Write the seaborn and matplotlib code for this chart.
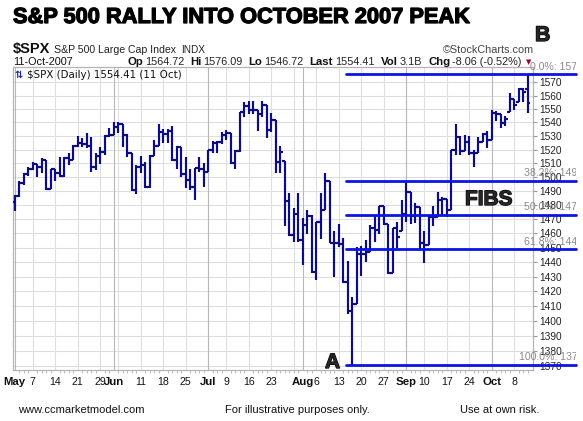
import numpy as np
import pandas as pd
import matplotlib
matplotlib.use("Agg")
import matplotlib.pyplot as plt
import matplotlib.patheffects as pe
from matplotlib.ticker import NullLocator, FixedLocator
from matplotlib.transforms import Bbox, blended_transform_factory
import seaborn as sns

# ---------------- data ----------------
holidays = ["2007-05-28", "2007-07-04", "2007-09-03"]
start_date, end_date = "2007-05-01", "2007-10-11"

opens = [
    1482.4, 1486.3, 1495.9, 1502.4, 1505.6, 1509.5, 1507.7, 1512.6, 1491.5, 1505.9, 1503.2,
    1501.2, 1514.1, 1512.8, 1522.8, 1525.1, 1524.1, 1522.3, 1507.5, 1515.7, 1518.1, 1530.2,
    1530.6, 1536.3, 1539.2, 1531.0, 1517.4, 1490.7, 1507.7, 1509.1, 1493.0, 1515.7, 1523.0,
    1532.9, 1531.1, 1533.7, 1512.8, 1522.2, 1502.6, 1497.7, 1492.9, 1506.3, 1505.7,
    1503.4, 1519.4, 1524.9, 1525.4, 1530.4, 1531.9, 1510.1, 1518.8, 1547.7, 1552.5, 1549.5,
    1549.4, 1546.2, 1553.1, 1534.1, 1541.6, 1511.0, 1512.0, 1482.7, 1459.0, 1473.9,
    1455.3, 1465.8, 1472.2, 1433.1, 1467.7, 1476.7, 1497.5, 1453.1, 1453.6, 1452.9, 1426.5,
    1406.7, 1411.3, 1445.9, 1445.6, 1447.1, 1464.1, 1462.5, 1479.4, 1466.8, 1432.4, 1463.8, 1462.0,
    1474.0, 1489.4, 1472.3, 1478.6, 1453.6, 1451.7, 1471.5, 1471.6, 1484.0, 1484.3, 1476.7,
    1519.8, 1529.0, 1518.8, 1525.8, 1517.7, 1517.2, 1525.4, 1531.4,
    1526.8, 1547.0, 1546.6, 1539.6, 1548.0, 1557.6, 1555.0, 1565.2, 1564.72,
]
highs = [
    1487.3, 1497.5, 1503.3, 1507.5, 1511.0, 1509.5, 1513.8, 1512.6, 1506.0, 1506.0, 1514.8,
    1514.5, 1517.2, 1523.5, 1529.9, 1528.5, 1532.4, 1529.3, 1517.6, 1521.8, 1530.8, 1535.6,
    1540.5, 1540.6, 1539.1, 1531.6, 1517.4, 1508.9, 1515.0, 1511.0, 1516.0, 1526.7, 1538.7,
    1535.4, 1535.4, 1537.3, 1522.9, 1522.2, 1514.4, 1506.1, 1506.8, 1514.8, 1510.0,
    1519.9, 1526.0, 1526.0, 1532.6, 1534.3, 1531.9, 1519.9, 1547.9, 1555.1, 1555.9, 1555.9,
    1549.4, 1555.9, 1553.1, 1547.0, 1541.6, 1523.0, 1512.0, 1488.5, 1477.9, 1488.3,
    1470.7, 1476.4, 1473.2, 1467.7, 1488.3, 1503.0, 1497.5, 1462.0, 1466.3, 1456.7, 1440.8,
    1415.9, 1450.5, 1451.5, 1455.3, 1466.0, 1472.1, 1479.4, 1479.4, 1466.8, 1463.8, 1468.4, 1484.0,
    1496.4, 1489.4, 1481.5, 1478.6, 1462.0, 1472.4, 1479.5, 1489.6, 1486.0, 1484.3, 1519.9,
    1538.7, 1529.9, 1530.9, 1530.2, 1519.8, 1529.4, 1532.4, 1533.7,
    1549.0, 1548.7, 1546.6, 1544.8, 1561.9, 1557.6, 1565.4, 1565.4, 1576.09,
]
lows = [
    1475.5, 1485.6, 1494.5, 1501.0, 1505.3, 1500.0, 1503.0, 1490.9, 1491.4, 1497.6, 1500.0,
    1500.0, 1508.9, 1512.8, 1521.8, 1521.8, 1521.0, 1504.0, 1505.4, 1509.6, 1516.0, 1528.9,
    1530.6, 1532.1, 1521.7, 1514.5, 1490.4, 1488.0, 1503.0, 1492.1, 1492.1, 1515.6, 1523.0,
    1524.7, 1525.2, 1512.0, 1505.8, 1500.0, 1492.1, 1490.5, 1483.3, 1503.4, 1492.9,
    1503.4, 1517.4, 1517.4, 1524.2, 1526.7, 1509.6, 1505.8, 1518.6, 1543.9, 1546.4, 1546.6,
    1533.4, 1543.9, 1528.4, 1533.0, 1503.0, 1503.0, 1465.0, 1458.0, 1454.0, 1454.3,
    1438.0, 1459.5, 1432.8, 1427.4, 1455.8, 1476.7, 1453.1, 1429.7, 1450.6, 1425.5, 1404.4,
    1370.6, 1411.3, 1430.5, 1440.0, 1447.1, 1454.0, 1459.3, 1466.0, 1432.0, 1432.4, 1450.0, 1462.0,
    1468.0, 1466.4, 1467.4, 1449.1, 1439.3, 1451.7, 1465.1, 1471.6, 1473.2, 1471.8, 1476.6,
    1516.0, 1516.4, 1518.8, 1516.2, 1507.1, 1517.2, 1525.4, 1521.0,
    1526.8, 1540.9, 1536.0, 1537.6, 1548.0, 1549.0, 1555.0, 1555.5, 1546.72,
]
closes = [
    1486.3, 1495.9, 1502.4, 1505.6, 1509.5, 1507.7, 1512.6, 1491.5, 1505.9, 1503.2, 1501.2,
    1514.1, 1512.8, 1522.8, 1525.1, 1524.1, 1522.3, 1507.5, 1515.7, 1518.1, 1530.2, 1530.6,
    1536.3, 1539.2, 1531.0, 1517.4, 1490.7, 1507.7, 1509.1, 1493.0, 1515.7, 1523.0, 1532.9,
    1531.1, 1533.7, 1512.8, 1522.2, 1502.6, 1497.7, 1492.9, 1506.3, 1505.7, 1503.4,
    1519.4, 1524.9, 1525.4, 1530.4, 1531.9, 1510.1, 1518.8, 1547.7, 1552.5, 1549.5, 1549.4,
    1546.2, 1553.1, 1534.1, 1541.6, 1511.0, 1518.1, 1482.7, 1459.0, 1473.9, 1455.3,
    1465.8, 1472.2, 1433.1, 1467.7, 1476.7, 1497.5, 1453.1, 1453.6, 1452.9, 1426.5, 1406.7,
    1411.3, 1445.9, 1445.6, 1447.1, 1464.1, 1462.5, 1479.4, 1466.8, 1432.4, 1463.8, 1457.6, 1474.0,
    1489.4, 1472.3, 1478.6, 1453.6, 1451.7, 1471.5, 1471.6, 1484.0, 1484.3, 1476.7, 1519.8,
    1529.0, 1518.8, 1525.8, 1517.7, 1517.2, 1525.4, 1531.4, 1526.8,
    1547.0, 1546.6, 1539.6, 1542.8, 1557.6, 1552.6, 1565.2, 1562.5, 1554.41,
]

tick_dates = ["2007-05-01", "2007-05-07", "2007-05-14", "2007-05-21", "2007-05-29",
              "2007-06-01", "2007-06-11", "2007-06-18", "2007-06-25", "2007-07-02",
              "2007-07-09", "2007-07-16", "2007-07-23", "2007-08-01", "2007-08-06",
              "2007-08-13", "2007-08-20", "2007-08-27", "2007-09-04", "2007-09-10",
              "2007-09-17", "2007-09-24", "2007-10-01", "2007-10-08"]
tick_labels = ["May", "7", "14", "21", "29", "Jun", "11", "18", "25", "Jul", "9", "16",
               "23", "Aug", "6", "13", "20", "27", "Sep", "10", "17", "24", "Oct", "8"]
month_labels = ["May", "Jun", "Jul", "Aug", "Sep", "Oct"]
price_ticks = list(range(1370, 1580, 10))

fib_levels = [0.0, 0.382, 0.5, 0.618, 1.0]
point_a_date = "2007-08-16"

title = "S&P 500 RALLY INTO OCTOBER 2007 PEAK"
symbol, symbol_name, exch = "$SPX", "S&P 500 Large Cap Index", "INDX"
date_str = "11-Oct-2007"
quote_items = [("Op", "1564.72"), ("Hi", "1576.09"), ("Lo", "1546.72"),
               ("Last", "1554.41"), ("Vol", "3.1B"), ("Chg", "-8.06 (-0.52%)")]
legend_str = "$SPX (Daily) 1554.41 (11 Oct)"
footer = ["www.ccmarketmodel.com", "For illustrative purposes only.", "Use at own risk."]

# ---------------- figure ----------------
sns.set_theme(style="white")
plt.rcParams["font.family"] = ["Liberation Sans", "DejaVu Sans"]

W, H = 583, 421
fig = plt.figure(figsize=(W / 100, H / 100), dpi=100)
fig.patch.set_facecolor("white")

def fx(x):
    return x / W

def fy(y):
    return 1 - y / H

ax_l, ax_r, ax_t, ax_b = 13, 533, 66.7, 369.5
ax = fig.add_axes([fx(ax_l), fy(ax_b), (ax_r - ax_l) / W, (ax_b - ax_t) / H])
ax.set_facecolor("white")

dates = pd.bdate_range(start_date, end_date).drop(pd.to_datetime(holidays))
df = pd.DataFrame({"date": dates, "open": opens, "high": highs, "low": lows, "close": closes})
df["x"] = np.arange(len(df))

NAVY = "#0b0b8c"
BLUE = "#0a14e6"
GRID = "#dedede"
MGRID = "#b8b8b8"

XLIM = (-0.38, 115.16)
YLIM = (1367.6, 1581.8)
ax.set_yscale("log")
ax.set_xlim(*XLIM)
ax.set_ylim(*YLIM)

# grid lines
for p in price_ticks:
    ax.axhline(p, color=GRID, lw=0.8, zorder=0)
week = df["date"].dt.isocalendar().week
week_start = df.index[week.ne(week.shift())]
month_start = df.index[df["date"].dt.month.ne(df["date"].dt.month.shift())]
for i in week_start:
    ax.axvline(i, color=GRID, lw=0.8, zorder=0)
for i in month_start:
    ax.axvline(i, color=MGRID, lw=0.8, zorder=0)

# OHLC bars
ax.vlines(df["x"], df["low"], df["high"], color=NAVY, lw=1.55, zorder=3)
ax.hlines(df["open"], df["x"] - 0.6, df["x"], color=NAVY, lw=1.55, zorder=3)
ax.hlines(df["close"], df["x"], df["x"] + 0.6, color=NAVY, lw=1.55, zorder=3)

# fibonacci lines
xa = df.index[df["date"] == pd.Timestamp(point_a_date)][0]
low_a = df["low"].min()
high_b = df["high"].max()
x_end = ax.transData.inverted().transform(fig.transFigure.transform((fx(576), 0.5)))[0]
rows = []
for lv in fib_levels:
    price = high_b - lv * (high_b - low_a)
    rows.append({"lvl": f"{lv}", "x": xa - 1.5, "y": price})
    rows.append({"lvl": f"{lv}", "x": x_end, "y": price})
fib_df = pd.DataFrame(rows)
sns.lineplot(data=fib_df, x="x", y="y", hue="lvl", units="lvl", estimator=None,
             palette=[BLUE] * len(fib_levels), legend=False, lw=2.0, ax=ax,
             clip_on=False, zorder=4, sort=False)
ax.set_xlim(*XLIM)
ax.set_ylim(*YLIM)

clip = Bbox.from_extents(0, 0, 576, H)
btf = blended_transform_factory(fig.transFigure, ax.transData)
for lv in fib_levels:
    price = high_b - lv * (high_b - low_a)
    t = ax.text(fx(598), price * 1.0012, f"{lv*100:.1f}%: {price:.2f}", transform=btf,
                ha="right", va="bottom", fontsize=7.6, color="#8a8a8a", zorder=6)
    t.set_clip_on(True)
    t.set_clip_box(clip)

# axes styling
for s in ax.spines.values():
    s.set_color("#b4b4b4")
    s.set_linewidth(0.9)
ax.yaxis.tick_right()
ax.yaxis.set_minor_locator(NullLocator())
ax.yaxis.set_major_locator(FixedLocator(price_ticks))
ax.set_yticklabels([str(p) for p in price_ticks])
ax.tick_params(axis="y", which="major", length=3, width=0.8, color="#9a9a9a",
               pad=1.5, labelsize=7.3, labelcolor="#222222", right=True, left=False)

tick_pos = [df.index[df["date"] == pd.Timestamp(d)][0] for d in tick_dates]
ax.set_xticks(tick_pos)
ax.set_xticklabels(tick_labels)
ax.xaxis.set_minor_locator(FixedLocator(df["x"].tolist()))
ax.tick_params(axis="x", which="major", length=0, pad=5.5, labelsize=7.6, labelcolor="#111111")
ax.tick_params(axis="x", which="minor", length=2, width=0.8, color="#c0c0c0", bottom=True)
for lab in ax.get_xticklabels():
    if lab.get_text() in month_labels:
        lab.set_fontweight("bold")
        lab.set_fontsize(8.2)
ax.set_xlabel("")
ax.set_ylabel("")
ax.grid(False)

# ---------------- texts ----------------
heavy = [pe.withStroke(linewidth=0.9, foreground="black")]
fig.text(fx(13), fy(23), title, fontsize=15.7, fontweight="bold", color="black",
         va="baseline", ha="left", path_effects=heavy)
fig.text(fx(535), fy(41), "B", fontsize=15.3, fontweight="bold", va="baseline",
         ha="left", path_effects=heavy)
fig.text(fx(465), fy(205), "FIBS", fontsize=15, fontweight="bold", va="baseline",
         ha="left", path_effects=heavy, zorder=10)
fig.text(fx(325), fy(368), "A", fontsize=15, fontweight="bold", va="baseline",
         ha="left", path_effects=heavy, zorder=10)

renderer = fig.canvas.get_renderer()
ts = fig.text(fx(13), fy(53), symbol, fontsize=10.5, fontweight="bold", va="baseline",
              color="#111111")
xs = ts.get_window_extent(renderer).x1 + 4
tn = fig.text(fx(xs), fy(53), symbol_name, fontsize=7.6, va="baseline", color="#222222")
xn = tn.get_window_extent(renderer).x1 + 5
fig.text(fx(xn), fy(53), exch, fontsize=7.2, va="baseline", color="#222222")
fig.text(fx(534), fy(53), "\u00a9StockCharts.com", fontsize=7.8, va="baseline",
         ha="right", color="#444444")
fig.text(fx(13), fy(65), date_str, fontsize=7.8, va="baseline", color="#111111")

xcur = 127
for lab, val in quote_items:
    t1 = fig.text(fx(xcur), fy(65), lab, fontsize=8.2, fontweight="bold",
                  va="baseline", color="#111111")
    xcur = t1.get_window_extent(renderer).x1 + 2
    t2 = fig.text(fx(xcur), fy(65), val, fontsize=7.8, va="baseline", color="#222222")
    xcur = t2.get_window_extent(renderer).x1 + 6
fig.text(fx(xcur - 2), fy(64), "\u25bc", fontsize=5, va="baseline", color="#a0002a",
         family="DejaVu Sans")

fig.text(fx(15), fy(78), "\u21c5", fontsize=7, va="baseline", color="#1a2aa8",
         family="DejaVu Sans", fontweight="bold", zorder=10)
fig.text(fx(27), fy(78), legend_str, fontsize=7.4, va="baseline", color="#111111",
         family="DejaVu Sans", zorder=10)

fig.text(fx(18), fy(413), footer[0], fontsize=8, va="baseline", color="#111111")
fig.text(fx(297), fy(413), footer[1], fontsize=8, va="baseline", ha="center", color="#111111")
fig.text(fx(539), fy(413), footer[2], fontsize=8, va="baseline", ha="right", color="#111111")

fig.savefig("out.png", dpi=100, facecolor="white")
